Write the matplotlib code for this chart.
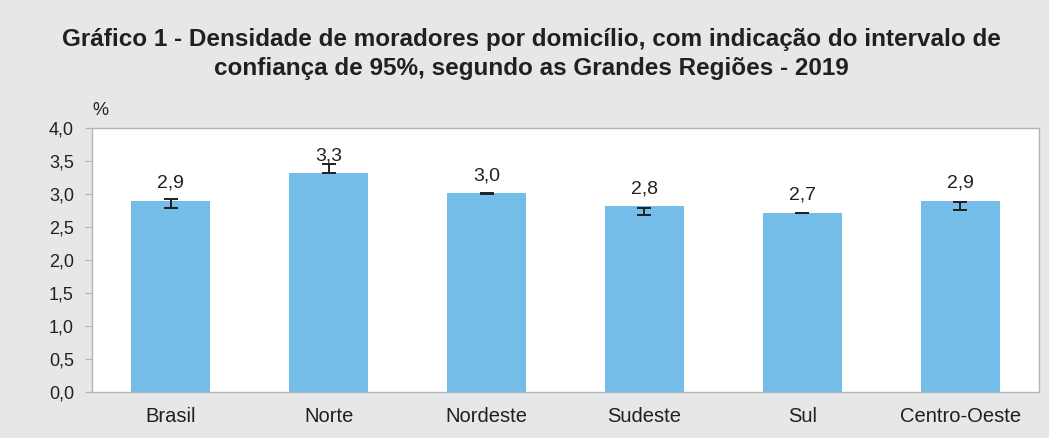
import numpy as np
import matplotlib.pyplot as plt

plt.rcParams['font.family'] = ['Liberation Sans', 'DejaVu Sans']

regioes = ['Brasil', 'Norte', 'Nordeste', 'Sudeste', 'Sul', 'Centro-Oeste']
densidade = [2.90, 3.31, 3.01, 2.81, 2.71, 2.90]
rotulos = ['2,9', '3,3', '3,0', '2,8', '2,7', '2,9']
ic_inf = [2.78, 3.31, 3.005, 2.68, 2.71, 2.76]
ic_sup = [2.92, 3.45, 3.015, 2.78, 2.715, 2.88]
yticks = [0.0, 0.5, 1.0, 1.5, 2.0, 2.5, 3.0, 3.5, 4.0]

texto = '#231f20'
fundo = '#e6e7e8'
azul = '#74bde8'
cinza = '#b4b4b4'

fig = plt.figure(figsize=(10.49, 4.38), dpi=100, facecolor=fundo)
ax = fig.add_axes([0.0877, 0.105, 0.9028, 0.603])
ax.set_facecolor('white')

x = np.arange(len(regioes))
ax.bar(x, densidade, width=0.5, color=azul, zorder=2)

centro = [(a + b) / 2 for a, b in zip(ic_inf, ic_sup)]
meia = [(b - a) / 2 for a, b in zip(ic_inf, ic_sup)]
ax.errorbar(x, centro, yerr=meia, fmt='none', ecolor='#231f20',
            elinewidth=1.4, capsize=5, capthick=1.4, zorder=3)

for xi, v, r in zip(x, densidade, rotulos):
    ax.annotate(r, (xi, v), xytext=(0, 9.5), textcoords='offset points',
                ha='center', va='baseline', fontsize=14, color=texto)

ax.set_xlim(-0.5, len(regioes) - 0.5)
ax.set_ylim(0, 4.0)
ax.set_yticks(yticks)
ax.set_yticklabels([f'{t:.1f}'.replace('.', ',') for t in yticks])
ax.set_xticks(x)
ax.set_xticklabels(regioes)
ax.tick_params(axis='y', direction='out', length=5, color=cinza,
               labelsize=13, labelcolor=texto, pad=8)
ax.tick_params(axis='x', length=0, labelsize=14.5, labelcolor=texto, pad=11)
for s in ax.spines.values():
    s.set_color(cinza)
    s.set_linewidth(1.0)

fig.text(0.088, 0.748, '%', fontsize=13, color=texto, ha='left', va='center')
fig.text(0.507, 0.877,
         'Gráfico 1 - Densidade de moradores por domicílio, com indicação do intervalo de\n'
         'confiança de 95%, segundo as Grandes Regiões - 2019',
         ha='center', va='center', fontsize=17.5, fontweight='bold',
         color=texto, linespacing=1.35)

fig.savefig('out.png', dpi=100, facecolor=fundo)
